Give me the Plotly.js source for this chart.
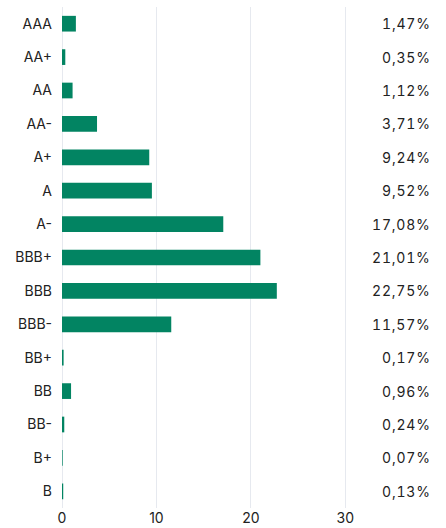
<!DOCTYPE html>
<html><head><meta charset="utf-8">
<script src="https://cdn.plot.ly/plotly-3.0.1.min.js"></script>
<style>html,body{margin:0;padding:0;background:#fff}
.annotation-text{font-feature-settings:"tnum" 1 !important;font-variant-numeric:tabular-nums !important;letter-spacing:0.8px !important;}
</style>
</head><body><div id="chart" style="width:446px;height:528px"></div>
<script>
const categories = ["AAA","AA+","AA","AA-","A+","A","A-","BBB+","BBB","BBB-","BB+","BB","BB-","B+","B"];
const values = [1.47,0.35,1.12,3.71,9.24,9.52,17.08,21.01,22.75,11.57,0.17,0.96,0.24,0.07,0.13];
const xTicks = [0,10,20,30];

const fmt = v => v.toFixed(2).replace('.', ',') + '%';
const font = {family: 'Inter, "Noto Sans", sans-serif', size: 14, color: '#222'};

const trace = {
  type: 'bar', orientation: 'h',
  x: values, y: categories,
  marker: {color: '#028462'},
  width: 0.47,
  hoverinfo: 'none'
};
const annotations = categories.map((c, i) => ({
  xref: 'paper', yref: 'y', x: 1.289, y: c,
  text: fmt(values[i]), showarrow: false, xanchor: 'right', yanchor: 'middle',
  font: font
}));
Plotly.newPlot('chart', [trace], {
  width: 446, height: 528,
  margin: {l: 62, r: 96, t: 7, b: 20, pad: 0},
  paper_bgcolor: '#fff', plot_bgcolor: '#fff',
  font: font,
  showlegend: false,
  bargap: 0.53,
  xaxis: {range: [0, 30.5], tickvals: xTicks, ticktext: xTicks.map(String),
    showgrid: true, gridcolor: '#e6e9ef', gridwidth: 1,
    zeroline: true, zerolinecolor: '#e6e9ef', zerolinewidth: 1,
    showline: false, ticks: '', tickfont: font, fixedrange: true},
  yaxis: {categoryorder: 'array', categoryarray: categories, autorange: 'reversed',
    showgrid: false, zeroline: false, showline: false, ticks: '',
    ticklabelstandoff: 9, tickfont: font, fixedrange: true},
  annotations: annotations
}, {displayModeBar: false, staticPlot: true});
</script></body></html>
